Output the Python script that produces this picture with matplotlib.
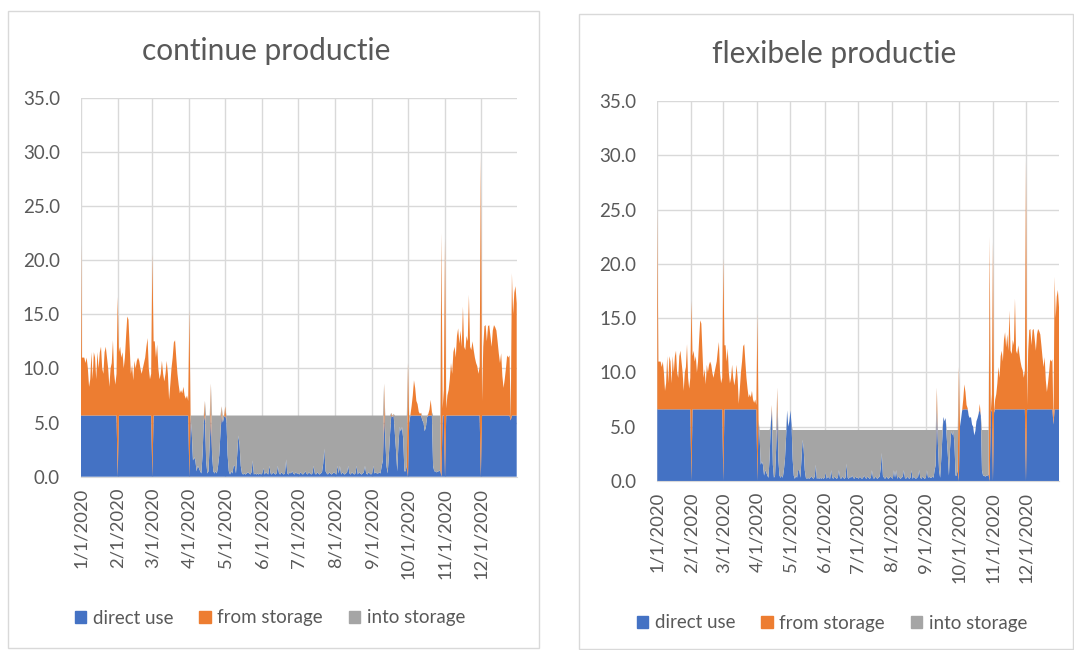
import numpy as np
import matplotlib.pyplot as plt
import matplotlib.dates as mdates
from matplotlib.patches import Patch, Rectangle
from matplotlib.ticker import FuncFormatter

plt.rcParams['font.family'] = ['Lato', 'DejaVu Sans']

# daily demand 2020, one list per month
jan = [25, 11, 11, 11, 10.5, 11, 10, 8.3, 9, 11.5, 9, 11.5, 11, 9, 11.5, 10,
       11.5, 12, 10, 9.5, 11.5, 12, 11, 10, 8.3, 10, 10.5, 12.6, 9.5, 8.5, 9.5]
feb = [16.6, 11.5, 12, 11, 11.5, 10, 11, 13, 14.8, 14.5, 12, 9.5, 10.3, 8.9, 10.7,
       10, 10.7, 11, 10.7, 10, 9.5, 10, 10.5, 11, 12, 12.8, 10, 9, 9.5]
mrt = [20.5, 12.5, 12.5, 11, 12.2, 10, 9, 9.5, 10.7, 9.5, 8.8, 9.5, 10.7, 9.5, 7.1,
       8.5, 10, 11, 12.4, 12.6, 11, 9.5, 8.5, 7.7, 8, 7.7, 8.3, 7.5, 7.2, 7.5, 7]
apr = [15.4, 5.6, 4, 1.5, 1.8, 1.5, 0.5, 1, 0.8, 0.5, 0.3, 2, 5, 7, 1.5, 0.3, 0.5,
       3, 8.6, 2, 0.5, 0.3, 0.5, 0.3, 1, 2, 4, 6.5, 5, 5.5]
mei = [6.5, 5.2, 2, 0.5, 0.2, 0.5, 0.3, 1, 1, 0.3, 2, 3.8, 3, 1, 0.3, 0.2, 0.3,
       0.2, 0.3, 0.4, 0.3, 0.2, 0.4, 1.5, 0.2, 0.3, 0.2, 0.3, 0.2, 0.3, 0.2]
jun = [0.3, 0.8, 0.2, 0.4, 0.3, 0.2, 1, 0.3, 0.2, 0.4, 0.3, 0.2, 0.3, 1, 0.3, 0.2,
       0.4, 0.3, 0.2, 0.3, 1.6, 0.3, 0.2, 0.4, 0.3, 0.5, 0.3, 0.2, 0.4, 0.3]
jul = [0.3, 0.2, 0.4, 0.3, 0.2, 0.3, 0.5, 0.3, 0.2, 0.4, 0.3, 0.2, 0.3, 1, 0.3, 0.2,
       0.4, 0.3, 0.2, 0.3, 0.4, 1.2, 2.6, 0.5, 0.3, 0.2, 0.4, 0.3, 0.2, 0.3, 0.4]
aug = [0.3, 0.2, 1, 0.3, 1, 0.2, 0.4, 0.3, 0.2, 0.3, 0.4, 1, 0.3, 0.2, 0.4, 0.3,
       0.2, 0.3, 1, 0.2, 0.4, 0.3, 0.2, 0.3, 0.4, 1, 0.3, 0.2, 0.4, 0.3, 0.2]
sep = [0.3, 1, 0.3, 0.4, 0.3, 0.3, 0.4, 0.3, 1, 1.5, 8.6, 3.4, 1, 0.3, 2, 4, 5.9,
       5.5, 5.8, 4, 2.4, 0.5, 3, 4.6, 4.2, 4.6, 3.5, 0.5, 0.5, 1]
okt = [10.5, 5, 5.7, 6.5, 7.5, 8.9, 8.2, 7, 6.7, 6, 5.8, 5.9, 5.2, 5, 4.2, 4.6, 5.5,
       5.8, 6.2, 7.1, 6, 1, 0.5, 0.5, 0.4, 0.5, 0.5, 0.6, 22.5, 6.3, 8]
nov = [22, 6.3, 7.5, 8, 9, 10.5, 9.5, 11.5, 12, 11, 13, 13.7, 12.3, 13.5, 12, 15.7,
       12, 11.7, 13, 12.5, 16.8, 12, 11.7, 12.5, 11.7, 11, 10.5, 10.2, 9.5, 10.2]
dec = [29.5, 7, 12, 13.9, 14, 12.5, 13.9, 14, 13, 12, 13.5, 14, 13.8, 13.5, 12.5,
       11.4, 10.5, 11.4, 9.3, 8.2, 9, 10, 11.2, 11, 11.2, 5.2, 18.8, 15, 17, 17.6, 16]

demand = np.array(jan + feb + mrt + apr + mei + jun + jul + aug + sep + okt + nov + dec)
days = np.arange(np.datetime64('2020-01-01'), np.datetime64('2021-01-01'))

# days the plant is down: everything comes out of storage
outage = ['2020-02-01', '2020-03-01', '2020-04-01', '2020-10-01',
          '2020-10-29', '2020-11-01', '2020-12-01']

continue_output = 5.65
flex_max_output = 6.6
flex_fill_level = 4.7
flex_fill_periods = [('2020-04-03', '2020-09-30'), ('2020-10-22', '2020-10-28')]

series_names = ['direct use', 'from storage', 'into storage']
colors = ['#4472C4', '#ED7D31', '#A5A5A5']
txt = '#595959'
grid = '#d9d9d9'


def split_supply(cap, fill):
    direct = np.minimum(demand, cap).astype(float)
    into = np.clip(fill - direct, 0, None)
    off = np.isin(days, np.array(outage, dtype='datetime64[D]'))
    direct[off] = 0
    into[off] = 0
    return direct, demand - direct, into


cont = split_supply(continue_output, continue_output)
fill = np.zeros(len(days))
for a, b in flex_fill_periods:
    fill[(days >= np.datetime64(a)) & (days <= np.datetime64(b))] = flex_fill_level
flex = split_supply(flex_max_output, fill)

W, H = 1074, 650
fig = plt.figure(figsize=(W / 100, H / 100), dpi=100)


def px_box(x0, y0, x1, y1):
    return [x0 / W, 1 - y1 / H, (x1 - x0) / W, (y1 - y0) / H]


def draw_panel(rect, parts, title, title_xy, legend_xy):
    ax = fig.add_axes(px_box(*rect))
    ax.stackplot(days, *parts, colors=colors, linewidth=0)
    ax.set_xlim(days[0], days[-1])
    ax.set_ylim(0, 35)
    ax.set_yticks(np.arange(0, 36, 5))
    ax.yaxis.set_major_formatter(FuncFormatter(lambda v, p: f'{v:.1f}'))
    ax.xaxis.set_major_locator(mdates.MonthLocator())
    ax.xaxis.set_major_formatter(FuncFormatter(
        lambda v, p: (lambda d: f'{d.month}/{d.day}/{d.year}')(mdates.num2date(v))))
    ax.tick_params(axis='x', length=0, pad=8, labelsize=13.2, labelcolor=txt,
                   labelrotation=90)
    ax.tick_params(axis='y', length=0, pad=15, labelsize=13.5, labelcolor=txt)
    ax.set_axisbelow(True)
    ax.grid(color=grid, lw=1)
    for s in ['top', 'right', 'left']:
        ax.spines[s].set_visible(False)
    ax.spines['bottom'].set_color(grid)
    fig.text(title_xy[0] / W, 1 - title_xy[1] / H, title, ha='center', va='center',
             fontsize=21.5, color=txt)
    handles = [Patch(color=c) for c in colors]
    fig.legend(handles, series_names, loc='center',
               bbox_to_anchor=(legend_xy[0] / W, 1 - legend_xy[1] / H),
               ncol=3, frameon=False, fontsize=13.5, labelcolor=txt,
               handlelength=0.6, handleheight=0.6, handletextpad=0.35,
               columnspacing=1.4)
    return ax


draw_panel((80.7, 97.7, 516.7, 476.7), cont, 'continue productie', (266, 51), (270, 618))
draw_panel((657.3, 101, 1059, 481), flex, 'flexibele productie', (834, 54), (832, 623))

# chart borders
fig.add_artist(Rectangle((8 / W, 1 - 648 / H), 531 / W, 637 / H,
                         transform=fig.transFigure, fill=False, ec=grid, lw=1))
fig.add_artist(Rectangle((579 / W, 1 - 649 / H), 494 / W, 635 / H,
                         transform=fig.transFigure, fill=False, ec=grid, lw=1))

fig.savefig('out.png', dpi=100)
